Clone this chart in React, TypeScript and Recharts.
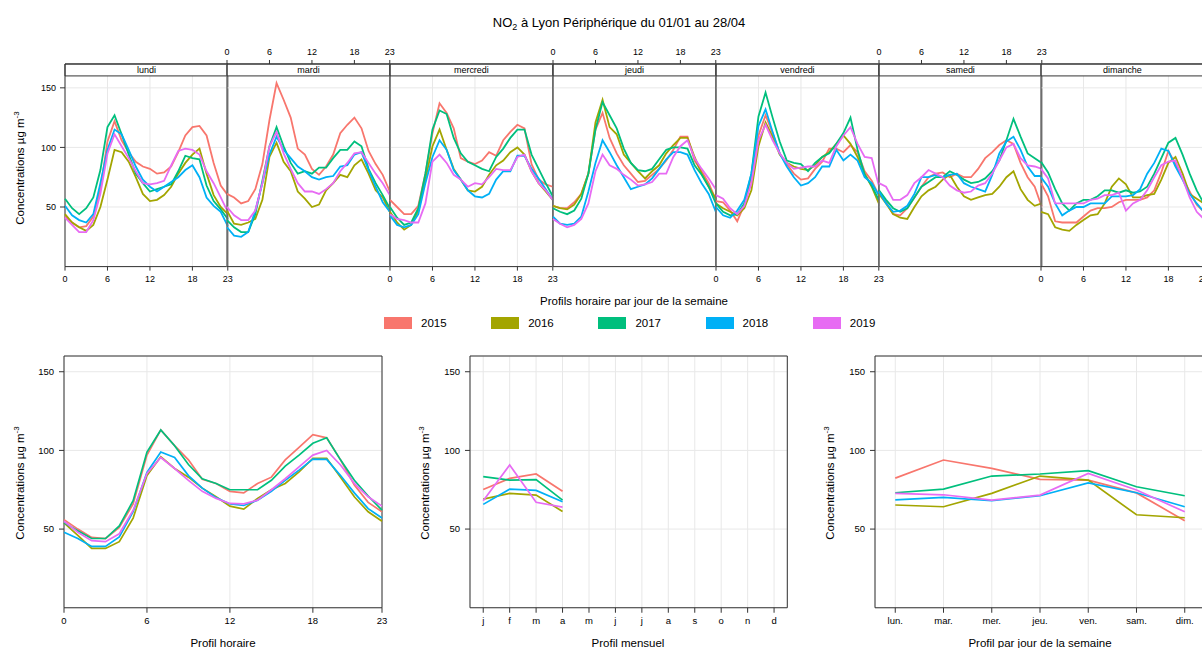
import React from "react";
import { LineChart, Line, XAxis, YAxis, CartesianGrid, ReferenceArea } from "recharts";

const years = ["2015", "2016", "2017", "2018", "2019"];
const colours = ["#F8766D", "#A3A500", "#00BF7D", "#00B0F6", "#E76BF3"];
const hours = [0, 1, 2, 3, 4, 5, 6, 7, 8, 9, 10, 11, 12, 13, 14, 15, 16, 17, 18, 19, 20, 21, 22, 23];
const hourTicks = [0, 6, 12, 18, 23];
const dayNames = ["lundi", "mardi", "mercredi", "jeudi", "vendredi", "samedi", "dimanche"];
const monthLabels = ["j", "f", "m", "a", "m", "j", "j", "a", "s", "o", "n", "d"];
const weekdayLabels = ["lun.", "mar.", "mer.", "jeu.", "ven.", "sam.", "dim."];

// hourly profiles per weekday, one row per year (2015..2019)
const lundi = [
  [42, 37, 33, 34, 42, 65, 105, 122, 106, 96, 88, 84, 82, 78, 79, 84, 96, 110, 117, 118, 110, 87, 68, 60],
  [44, 37, 33, 30, 35, 50, 73, 98, 96, 88, 75, 61, 55, 56, 60, 67, 78, 87, 94, 99, 78, 60, 50, 44],
  [57, 49, 44, 49, 58, 81, 117, 127, 111, 94, 78, 70, 63, 65, 67, 69, 80, 93, 91, 90, 68, 55, 48, 40],
  [51, 43, 39, 37, 44, 70, 98, 115, 111, 98, 84, 73, 67, 63, 67, 71, 75, 81, 85, 75, 58, 51, 46, 34],
  [41, 35, 29, 29, 39, 61, 95, 111, 101, 91, 80, 70, 69, 70, 72, 85, 97, 99, 98, 94, 80, 70, 58, 46],
];
const mardi = [
  [61, 58, 53, 55, 65, 86, 123, 154, 140, 125, 99, 94, 82, 77, 84, 94, 112, 119, 125, 116, 97, 86, 77, 63],
  [47, 36, 35, 37, 40, 56, 92, 104, 88, 80, 63, 57, 50, 52, 64, 70, 77, 75, 85, 90, 78, 64, 58, 46],
  [39, 33, 29, 29, 44, 72, 101, 117, 101, 87, 78, 80, 78, 83, 83, 91, 98, 98, 105, 101, 82, 70, 60, 49],
  [33, 26, 25, 29, 47, 70, 94, 109, 98, 91, 84, 80, 75, 73, 75, 76, 84, 85, 94, 96, 81, 67, 54, 46],
  [50, 43, 39, 39, 47, 70, 101, 113, 95, 82, 70, 63, 63, 61, 65, 70, 80, 87, 95, 96, 87, 78, 70, 60],
];
const mercredi = [
  [56, 50, 44, 44, 51, 78, 112, 137, 129, 116, 91, 88, 86, 89, 96, 93, 106, 113, 119, 116, 86, 73, 69, 67],
  [46, 37, 31, 35, 47, 73, 101, 115, 98, 82, 73, 64, 63, 67, 77, 85, 89, 96, 100, 94, 80, 70, 63, 56],
  [50, 41, 35, 37, 49, 78, 115, 131, 128, 108, 95, 88, 85, 82, 80, 92, 99, 108, 115, 115, 94, 82, 70, 59],
  [43, 35, 33, 35, 44, 70, 92, 106, 98, 81, 73, 64, 59, 58, 61, 73, 80, 80, 93, 93, 82, 74, 65, 56],
  [44, 40, 39, 37, 37, 53, 88, 94, 87, 77, 73, 67, 70, 69, 75, 82, 81, 81, 92, 94, 80, 70, 64, 56],
];
const jeudi = [
  [51, 49, 49, 54, 61, 78, 115, 129, 108, 95, 85, 78, 71, 72, 77, 82, 89, 98, 109, 109, 89, 80, 70, 56],
  [51, 49, 48, 52, 61, 78, 121, 140, 117, 111, 94, 87, 80, 74, 80, 85, 95, 102, 108, 108, 92, 78, 67, 57],
  [49, 46, 44, 47, 57, 78, 115, 138, 127, 116, 99, 87, 81, 80, 82, 90, 98, 100, 100, 99, 85, 77, 67, 53],
  [42, 36, 35, 36, 42, 63, 87, 106, 96, 85, 75, 65, 67, 69, 74, 82, 90, 96, 96, 94, 81, 70, 61, 46],
  [40, 36, 33, 35, 40, 53, 80, 94, 85, 82, 77, 73, 68, 69, 71, 78, 78, 92, 101, 106, 91, 82, 74, 65],
];
const vendredi = [
  [55, 54, 47, 38, 52, 75, 110, 127, 112, 95, 86, 78, 73, 74, 82, 88, 99, 99, 96, 102, 96, 80, 72, 60],
  [53, 49, 46, 43, 49, 64, 101, 121, 109, 94, 87, 84, 82, 81, 85, 92, 96, 103, 110, 103, 92, 78, 67, 53],
  [53, 46, 43, 44, 53, 78, 126, 146, 125, 105, 89, 87, 86, 80, 87, 92, 95, 103, 112, 125, 98, 77, 68, 56],
  [50, 43, 41, 47, 56, 78, 118, 132, 113, 95, 84, 75, 68, 70, 75, 84, 84, 98, 89, 94, 89, 75, 70, 60],
  [60, 57, 49, 44, 51, 70, 106, 119, 106, 95, 87, 82, 83, 84, 84, 89, 87, 101, 110, 117, 103, 92, 91, 68],
];
const samedi = [
  [63, 54, 44, 43, 49, 58, 67, 75, 78, 79, 75, 78, 75, 75, 82, 91, 96, 102, 106, 103, 87, 75, 67, 50],
  [61, 53, 44, 41, 40, 50, 59, 64, 67, 73, 77, 67, 59, 56, 58, 60, 61, 67, 75, 80, 65, 56, 51, 53],
  [64, 56, 49, 46, 49, 58, 67, 71, 75, 75, 80, 77, 73, 70, 71, 74, 80, 89, 106, 124, 109, 95, 91, 87],
  [63, 53, 46, 47, 51, 61, 75, 75, 77, 75, 77, 78, 70, 67, 65, 63, 77, 95, 105, 109, 98, 84, 76, 76],
  [70, 67, 56, 56, 60, 70, 75, 81, 78, 75, 68, 64, 62, 63, 68, 70, 78, 89, 100, 103, 91, 85, 84, 82],
];
const dimanche = [
  [70, 59, 38, 37, 37, 37, 42, 47, 49, 49, 50, 54, 56, 56, 56, 58, 64, 79, 97, 86, 74, 63, 52, 46],
  [46, 44, 33, 31, 30, 35, 39, 43, 44, 53, 67, 74, 69, 58, 58, 60, 61, 73, 87, 92, 78, 61, 57, 53],
  [88, 79, 65, 53, 47, 53, 56, 56, 59, 64, 64, 62, 64, 62, 63, 67, 78, 91, 104, 108, 94, 78, 64, 53],
  [75, 67, 53, 43, 47, 50, 50, 53, 53, 53, 59, 59, 59, 60, 65, 78, 87, 99, 97, 84, 73, 61, 53, 46],
  [82, 74, 53, 53, 53, 53, 53, 56, 57, 60, 60, 62, 47, 53, 56, 64, 75, 85, 88, 89, 74, 58, 46, 40],
];
const weekHours = [lundi, mardi, mercredi, jeudi, vendredi, samedi, dimanche];

// overall hourly profile
const hourly = [
  [56, 50, 44.7, 44, 51, 66, 97, 113, 103, 94, 81.6, 79, 74, 73, 79, 83, 94, 102, 110, 108, 94, 78, 67, 61],
  [54, 46, 37.7, 37.7, 42, 57, 84, 96, 88.5, 83, 76, 70.5, 64.6, 62.7, 69.5, 75, 79, 86.4, 95, 95, 83, 70.5, 61, 55],
  [54, 49, 44, 44, 52, 68, 99, 113, 103, 91, 82, 79, 75, 75, 75, 81, 90, 97, 104.5, 108, 94, 81, 71, 62],
  [48, 44, 39, 39, 45, 61, 86, 99, 95.5, 84, 76, 70, 66, 65, 68.4, 74, 81, 87.5, 94.5, 94.3, 84, 73, 63, 57],
  [55, 48, 42.6, 42, 47, 62, 85.4, 95.5, 88.5, 81, 74, 69.5, 66.3, 66, 68.4, 75, 82, 89.6, 97, 100, 90.7, 79, 70.5, 64.6],
];

// monthly profile (january..april)
const months = [1, 2, 3, 4];
const monthly = [
  [75.2, 82.2, 85, 74],
  [69, 72.7, 71.6, 61.2],
  [83.3, 81.1, 81.4, 68.4],
  [65.7, 75.4, 74.6, 67.4],
  [68, 90.7, 67, 64],
];

// day of week profile
const weekdays = [1, 2, 3, 4, 5, 6, 7];
const daily = [
  [82.4, 93.9, 88.6, 81.6, 81.1, 73, 55.3],
  [65.3, 64.2, 72.7, 83.7, 81.1, 59.1, 57.2],
  [73.1, 75.4, 83.7, 85, 87.1, 76.9, 71.2],
  [68.6, 70.1, 68, 71.2, 79.4, 73.1, 64.2],
  [72.7, 71.8, 68.4, 71.6, 85.4, 74.8, 61],
];

const FONT = '"Liberation Sans", Arial, Helvetica, sans-serif';
const AXIS_COL = "#333333";
const GRID_COL = "#e8e8e8";
const PAD = 50;
const AXH = 24;
const YAW = 44;
const YRW = 10;

const TOP_X0 = 64.5;
const TOP_STEP = 162.8;
const TOP_Y0 = 64;
const TOP_H = 202.6;

const BOT_Y0 = 355.9;
const BOT_H = 251.75;

function toRows(keys: number[], values: number[][]) {
  return keys.map((k, i) => {
    const row: Record<string, number> = { x: k };
    years.forEach((y, j) => {
      row[y] = values[j][i];
    });
    return row;
  });
}

const tickStyle = { fontSize: 9, fill: "#000" };

function DayPanel({ index }: { index: number }) {
  const data = toRows(hours, weekHours[index]);
  const first = index === 0;
  const below = index % 2 === 0;
  return (
    <div style={{ position: "absolute", left: TOP_X0 + index * TOP_STEP - PAD, top: TOP_Y0 - PAD }}>
      <LineChart
        width={TOP_STEP + 2 * PAD}
        height={TOP_H + 2 * PAD}
        data={data}
        margin={{ top: PAD - AXH, bottom: PAD - AXH, left: first ? PAD - YAW : PAD, right: PAD }}
      >
        <CartesianGrid stroke={GRID_COL} />
        <XAxis
          dataKey="x"
          type="number"
          domain={[0, 23]}
          ticks={hourTicks}
          interval={0}
          height={AXH}
          axisLine={false}
          tickLine={{ stroke: AXIS_COL }}
          tickSize={4}
          tickMargin={5}
          tick={below ? tickStyle : false}
        />
        <XAxis
          xAxisId="top"
          orientation="top"
          dataKey="x"
          type="number"
          domain={[0, 23]}
          ticks={hourTicks}
          interval={0}
          height={AXH}
          axisLine={false}
          tickLine={{ stroke: AXIS_COL }}
          tickSize={4}
          tickMargin={5}
          tick={below ? false : tickStyle}
        />
        <YAxis
          type="number"
          domain={[0, 170]}
          ticks={[50, 100, 150]}
          hide={!first}
          width={YAW}
          axisLine={false}
          tickLine={{ stroke: AXIS_COL }}
          tickSize={5}
          tickMargin={4}
          tick={tickStyle}
        />
        <ReferenceArea
          x1={0}
          x2={23}
          y1={160}
          y2={170}
          fill="#fff"
          fillOpacity={1}
          stroke={AXIS_COL}
          ifOverflow="visible"
          label={{ value: dayNames[index], position: "center", fontSize: 9, fill: "#000" }}
        />
        {years.map((y, j) => (
          <Line key={y} dataKey={y} stroke={colours[j]} strokeWidth={1.8} dot={false} isAnimationActive={false} />
        ))}
        <ReferenceArea x1={0} x2={23} y1={0} y2={170} fill="none" stroke={AXIS_COL} ifOverflow="visible" />
      </LineChart>
    </div>
  );
}

function ProfilePanel(props: {
  left: number;
  width: number;
  rows: Record<string, number>[];
  domain: [number, number];
  ticks: number[];
  format?: (v: number) => string;
}) {
  const { left, width, rows, domain, ticks, format } = props;
  const bottomTick = { fontSize: 9.5, fill: "#000" };
  return (
    <div style={{ position: "absolute", left: left - PAD, top: BOT_Y0 - PAD }}>
      <LineChart
        width={width + 2 * PAD}
        height={BOT_H + 2 * PAD}
        data={rows}
        margin={{ top: PAD - AXH, bottom: PAD - AXH, left: PAD - YAW, right: PAD - YRW }}
      >
        <CartesianGrid stroke={GRID_COL} />
        <XAxis
          dataKey="x"
          type="number"
          domain={domain}
          ticks={ticks}
          interval={0}
          tickFormatter={format}
          height={AXH}
          axisLine={false}
          tickLine={{ stroke: AXIS_COL }}
          tickSize={5}
          tickMargin={5}
          tick={bottomTick}
        />
        <XAxis
          xAxisId="top"
          orientation="top"
          dataKey="x"
          type="number"
          domain={domain}
          ticks={ticks}
          interval={0}
          height={AXH}
          axisLine={false}
          tickLine={{ stroke: AXIS_COL }}
          tickSize={5}
          tick={false}
        />
        <YAxis
          type="number"
          domain={[0, 160]}
          ticks={[50, 100, 150]}
          width={YAW}
          axisLine={false}
          tickLine={{ stroke: AXIS_COL }}
          tickSize={5}
          tickMargin={5}
          tick={bottomTick}
        />
        <YAxis
          yAxisId="right"
          orientation="right"
          type="number"
          domain={[0, 160]}
          ticks={[50, 100, 150]}
          width={YRW}
          axisLine={false}
          tickLine={{ stroke: AXIS_COL }}
          tickSize={5}
          tick={false}
        />
        {years.map((y, j) => (
          <Line key={y} dataKey={y} stroke={colours[j]} strokeWidth={1.7} dot={false} isAnimationActive={false} />
        ))}
        <ReferenceArea x1={domain[0]} x2={domain[1]} y1={0} y2={160} fill="none" stroke={AXIS_COL} ifOverflow="visible" />
      </LineChart>
    </div>
  );
}

function YTitle({ x, y }: { x: number; y: number }) {
  return (
    <div
      style={{
        position: "absolute",
        left: x,
        top: y,
        transform: "translate(-50%, -50%) rotate(-90deg)",
        whiteSpace: "nowrap",
        fontSize: 11.5,
        lineHeight: "14px",
      }}
    >
      Concentrations µg m<sup style={{ fontSize: 8, lineHeight: 0 }}>-3</sup>
    </div>
  );
}

function XTitle({ x, y, text }: { x: number; y: number; text: string }) {
  return (
    <div
      style={{
        position: "absolute",
        left: x,
        top: y,
        transform: "translate(-50%, -50%)",
        whiteSpace: "nowrap",
        fontSize: 11.5,
      }}
    >
      {text}
    </div>
  );
}

export default function App() {
  return (
    <div
      style={{
        position: "absolute",
        left: 0,
        top: 0,
        width: 1202,
        height: 648,
        overflow: "hidden",
        background: "#fff",
        fontFamily: FONT,
        color: "#000",
      }}
    >
      <div
        style={{
          position: "absolute",
          left: 619,
          top: 22,
          transform: "translate(-50%, -50%)",
          whiteSpace: "nowrap",
          fontSize: 13,
        }}
      >
        NO<sub style={{ fontSize: 9, lineHeight: 0 }}>2</sub> à Lyon Périphérique du 01/01 au 28/04
      </div>

      {dayNames.map((d, i) => (
        <DayPanel key={d} index={i} />
      ))}
      <YTitle x={20} y={168} />
      <XTitle x={634} y={301} text="Profils horaire par jour de la semaine" />

      {years.map((y, j) => (
        <div key={y} style={{ position: "absolute", left: 384 + j * 107.2, top: 317 }}>
          <div style={{ position: "absolute", left: 0, top: 0, width: 28, height: 12, background: colours[j] }} />
          <div style={{ position: "absolute", left: 37, top: -1, fontSize: 11.5, lineHeight: "14px" }}>{y}</div>
        </div>
      ))}

      <ProfilePanel left={64.3} width={318} rows={toRows(hours, hourly)} domain={[0, 23]} ticks={hourTicks} />
      <ProfilePanel
        left={469.7}
        width={317.3}
        rows={toRows(months, monthly)}
        domain={[0.5, 12.5]}
        ticks={[1, 2, 3, 4, 5, 6, 7, 8, 9, 10, 11, 12]}
        format={(v) => monthLabels[v - 1]}
      />
      <ProfilePanel
        left={874.7}
        width={330}
        rows={toRows(weekdays, daily)}
        domain={[0.58, 7.42]}
        ticks={weekdays}
        format={(v) => weekdayLabels[v - 1]}
      />
      <YTitle x={20} y={483} />
      <YTitle x={425} y={483} />
      <YTitle x={830} y={483} />
      <XTitle x={223} y={643} text="Profil horaire" />
      <XTitle x={628} y={643} text="Profil mensuel" />
      <XTitle x={1040} y={643} text="Profil par jour de la semaine" />
    </div>
  );
}
